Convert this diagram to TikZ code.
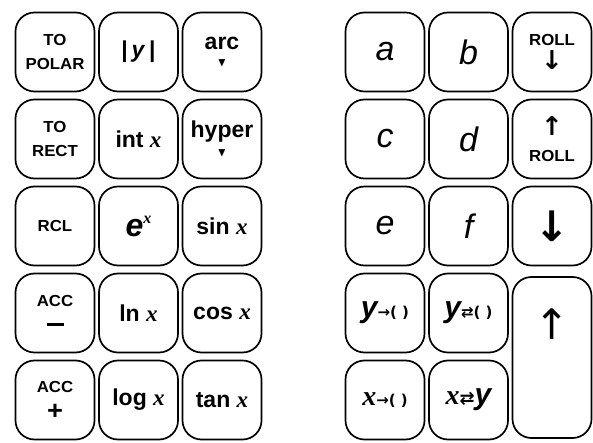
\documentclass[tikz,border=0pt]{standalone}
\usepackage{fontspec}
\usepackage{amsmath}
\usepackage{amssymb}
\usepackage{tikz}
\usetikzlibrary{shapes,arrows}
\usetikzlibrary{positioning}
\setsansfont{Liberation Sans}
\newfontfamily\varfont{Liberation Serif}
\newfontfamily\arrowfont{DejaVu Sans}
\newfontfamily\capfont{Liberation Sans}[FakeStretch=1.05]
\newcommand{\vx}{{\varfont\bfseries\itshape x}}
\newcommand{\smtri}{{\fontsize{12}{12}\selectfont$\blacktriangledown$}}
\newcommand{\boldarr}[1]{{\arrowfont\bfseries\fontsize{26}{26}\selectfont #1}}
\tikzstyle{key} = [rectangle, draw, line width=1.7pt, rounded corners=19pt,
minimum width=79pt, minimum height=79pt, inner sep=0pt, align=center, font=\sffamily\bfseries]
\tikzstyle{capkey} = [key, font=\capfont\bfseries\fontsize{16}{24}\selectfont]
\tikzstyle{fnkey} = [key, font=\sffamily\bfseries\fontsize{23}{24}\selectfont]
\tikzstyle{regkey} = [key, font=\sffamily\fontsize{34}{36}\selectfont\itshape]
\tikzstyle{tallkey} = [key, minimum height=161pt]

\begin{document}
\begin{tikzpicture}[x=1pt, y=1pt, node distance=87pt]
	\useasboundingbox (0,0) rectangle (593,-443);
	
	% function keys
	\node [capkey] (polar) at (55,-52) {TO\\POLAR};
	\node [fnkey, right of=polar, node distance=83.5pt] (absy) {|\,\textit{y}\,|};
	\node [fnkey, right of=absy, node distance=83.5pt] (arc) {arc\\[-7pt]\smtri};
	\node [capkey, below of=polar] (rect) {TO\\RECT};
	\node [fnkey, right of=rect, node distance=83.5pt] (intx) {int \vx};
	\node [fnkey, right of=intx, node distance=83.5pt] (hyper) {hyper\\[-5pt]\smtri};
	\node [capkey, below of=rect] (rcl) {RCL};
	\node [key, right of=rcl, node distance=83.5pt] (expx) {{\fontsize{32}{32}\selectfont\itshape e}\raisebox{13pt}{\fontsize{16}{16}\selectfont\vx}};
	\node [fnkey, right of=expx, node distance=83.5pt] (sinx) {sin \vx};
	\node [capkey, below of=rcl] (accm) {ACC\\\rule[5pt]{17pt}{3pt}};
	\node [fnkey, right of=accm, node distance=83.5pt] (lnx) {ln \vx};
	\node [fnkey, right of=lnx, node distance=83.5pt] (cosx) {cos \vx};
	\node [capkey, below of=accm] (accp) {ACC\\[3pt]{\fontsize{26}{26}\selectfont +}};
	\node [fnkey, right of=accp, node distance=83.5pt] (logx) {log \vx};
	\node [fnkey, right of=logx, node distance=83.5pt] (tanx) {tan \vx};
	
	% register keys
	\node [regkey] (ka) at (385,-52) {a};
	\node [regkey, right of=ka, node distance=83.5pt] (kb) {b};
	\node [capkey, right of=kb, node distance=83.5pt] (rolldn) {ROLL\\[0pt]\boldarr{↓}};
	\node [regkey, below of=ka] (kc) {c};
	\node [regkey, right of=kc, node distance=83.5pt] (kd) {d};
	\node [capkey, right of=kd, node distance=83.5pt] (rollup) {\boldarr{↑}\\[2pt]ROLL};
	\node [regkey, below of=kc] (ke) {e};
	\node [regkey, right of=ke, node distance=83.5pt] (kf) {f};
	\node [key, right of=kf, node distance=83.5pt] (down) {{\arrowfont\fontsize{42}{42}\selectfont ↓}};
	\node [key, below of=ke] (ysto) {{\fontsize{30}{30}\selectfont\itshape y}{\fontsize{15}{15}\selectfont\arrowfont\bfseries →( )}};
	\node [key, right of=ysto, node distance=83.5pt] (yexch) {{\fontsize{30}{30}\selectfont\itshape y}{\fontsize{15}{15}\selectfont\arrowfont\bfseries ⇄( )}};
	\node [key, below of=ysto] (xsto) {{\fontsize{28}{28}\selectfont\vx}{\fontsize{15}{15}\selectfont\arrowfont\bfseries →( )}};
	\node [key, right of=xsto, node distance=83.5pt] (xexch) {{\fontsize{28}{28}\selectfont\vx}{\fontsize{18}{18}\selectfont\arrowfont\bfseries ⇄}{\fontsize{30}{30}\selectfont\itshape y}};
	\node [tallkey, below of=down, node distance=131.5pt,
	label={[anchor=center, yshift=-48pt]north:{\arrowfont\fontsize{42}{42}\selectfont ↑}}] (up) {};
	
\end{tikzpicture}
\end{document}
